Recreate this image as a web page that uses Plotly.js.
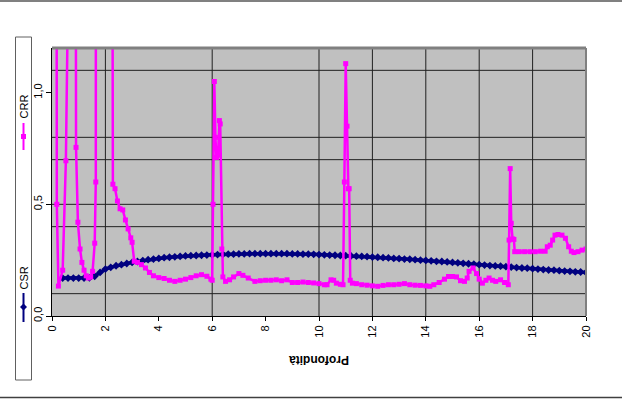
<!DOCTYPE html>
<html>
<head>
<meta charset="utf-8">
<script src="https://cdn.plot.ly/plotly-3.0.1.min.js"></script>
<style>html,body{margin:0;padding:0;background:#fff;}#chart{width:622px;height:401px;}</style>
</head>
<body>
<div id="chart"></div>
<script>
// ---- data ----
const depthCSR = [0.4,0.6,0.8,1.0,1.2,1.4,1.6,1.8,2.0,2.2,2.4,2.6,2.8,3.0,3.2,3.4,3.6,3.8,4.0,4.2,4.4,4.6,4.8,5.0,5.2,5.4,5.6,5.8,6.0,6.2,6.4,6.6,6.8,7.0,7.2,7.4,7.6,7.8,8.0,8.2,8.4,8.6,8.8,9.0,9.2,9.4,9.6,9.8,10.0,10.2,10.4,10.6,10.8,11.0,11.2,11.4,11.6,11.8,12.0,12.2,12.4,12.6,12.8,13.0,13.2,13.4,13.6,13.8,14.0,14.2,14.4,14.6,14.8,15.0,15.2,15.4,15.6,15.8,16.0,16.2,16.4,16.6,16.8,17.0,17.2,17.4,17.6,17.8,18.0,18.2,18.4,18.6,18.8,19.0,19.2,19.4,19.6,19.8,20.0];
const csr = [0.17,0.17,0.17,0.17,0.17,0.171,0.178,0.195,0.21,0.218,0.225,0.23,0.235,0.24,0.244,0.248,0.252,0.255,0.258,0.261,0.263,0.265,0.267,0.269,0.27,0.271,0.272,0.273,0.274,0.275,0.276,0.277,0.277,0.278,0.278,0.279,0.279,0.279,0.279,0.279,0.279,0.279,0.279,0.278,0.278,0.277,0.277,0.276,0.275,0.274,0.273,0.272,0.271,0.27,0.269,0.268,0.267,0.266,0.264,0.263,0.261,0.26,0.258,0.257,0.255,0.254,0.252,0.25,0.249,0.247,0.245,0.244,0.242,0.24,0.238,0.236,0.234,0.232,0.23,0.228,0.226,0.224,0.223,0.221,0.219,0.217,0.215,0.214,0.212,0.21,0.208,0.206,0.205,0.203,0.201,0.2,0.198,0.197,0.195];
const depthCRR = [0.16,0.18,0.24,0.4,0.52,0.53,0.87,0.9,0.97,1.05,1.12,1.2,1.28,1.36,1.45,1.52,1.6,1.64,1.65,2.23,2.28,2.36,2.45,2.55,2.65,2.75,2.85,2.95,3.0,3.08,3.2,3.35,3.5,3.65,3.8,4.0,4.2,4.4,4.6,4.8,5.0,5.2,5.4,5.6,5.8,5.95,6.0,6.03,6.08,6.12,6.16,6.22,6.27,6.3,6.36,6.4,6.5,6.65,6.8,7.0,7.15,7.35,7.6,7.8,8.0,8.2,8.4,8.6,8.8,9.0,9.2,9.4,9.6,9.8,10.0,10.2,10.3,10.45,10.55,10.65,10.8,10.9,10.95,11.0,11.05,11.1,11.13,11.17,11.25,11.4,11.6,11.8,12.0,12.2,12.4,12.6,12.8,13.0,13.2,13.4,13.6,13.8,14.0,14.15,14.3,14.5,14.7,14.85,15.0,15.15,15.3,15.45,15.55,15.62,15.77,15.9,16.0,16.12,16.25,16.37,16.5,16.62,16.8,16.95,17.09,17.12,17.16,17.2,17.25,17.3,17.33,17.5,17.7,17.9,18.1,18.3,18.47,18.55,18.66,18.75,18.84,18.95,19.1,19.23,19.35,19.45,19.55,19.7,19.85,20.0];
const crr = [4.0,0.5,0.134,0.205,0.695,4.0,4.0,0.755,0.42,0.3,0.24,0.205,0.18,0.17,0.175,0.2,0.326,0.6,4.0,4.0,0.59,0.57,0.515,0.48,0.475,0.43,0.39,0.35,0.33,0.245,0.24,0.23,0.215,0.195,0.18,0.172,0.168,0.16,0.155,0.16,0.165,0.172,0.18,0.185,0.178,0.165,0.16,0.5,1.05,0.8,0.71,0.72,0.875,0.86,0.3,0.175,0.155,0.162,0.175,0.19,0.182,0.17,0.155,0.158,0.16,0.16,0.162,0.158,0.162,0.15,0.15,0.152,0.15,0.148,0.145,0.14,0.14,0.162,0.16,0.147,0.142,0.14,0.6,1.13,0.85,0.57,0.57,0.16,0.147,0.145,0.14,0.138,0.135,0.133,0.137,0.14,0.14,0.142,0.145,0.14,0.138,0.137,0.135,0.133,0.14,0.15,0.165,0.177,0.177,0.175,0.158,0.155,0.17,0.2,0.215,0.19,0.165,0.147,0.16,0.17,0.16,0.155,0.162,0.15,0.14,0.34,0.66,0.415,0.345,0.343,0.288,0.288,0.288,0.288,0.288,0.29,0.29,0.31,0.317,0.34,0.362,0.365,0.362,0.348,0.31,0.29,0.284,0.288,0.295,0.3];
const xTickVals = [0,2,4,6,8,10,12,14,16,18,20];
const yTickVals = [0,0.5,1.0];
const yTickText = ['0,0','0,5','1,0'];
const xGridVals = [2,6,10,12,14,16,18];
const yGridVals = [0.1,0.4,0.5,0.7,0.8,1.1];
const seriesNames = ['CSR','CRR'];
const xTitle = 'Profondità';

// ---- layout helpers (pixel -> paper) ----
const L = 52, R = 586, T = 48, B = 316;
const px = v => (v - L) / (R - L);
const py = v => (B - v) / (B - T);
const FONT = 'Liberation Sans, Arial, sans-serif';
const NAVY = '#000080', MAG = '#FF00FF';

const shapes = [];
xGridVals.forEach(v => shapes.push({type:'line', xref:'x', yref:'paper', x0:v, x1:v, y0:0, y1:1, layer:'below', line:{color:'#202020', width:1}}));
yGridVals.forEach(v => shapes.push({type:'line', xref:'paper', yref:'y', x0:0, x1:1, y0:v, y1:v, layer:'below', line:{color:'#202020', width:1}}));
// plot border (gray top/right)
shapes.push({type:'line', xref:'paper', yref:'paper', x0:0, x1:1, y0:1, y1:1, line:{color:'#808080', width:3}});
shapes.push({type:'line', xref:'paper', yref:'paper', x0:1, x1:1, y0:0, y1:1, line:{color:'#808080', width:2}});
// outer frame lines
shapes.push({type:'line', xref:'paper', yref:'paper', x0:px(0), x1:px(622), y0:py(1), y1:py(1), line:{color:'#808080', width:2}});
shapes.push({type:'line', xref:'paper', yref:'paper', x0:px(0), x1:px(622), y0:py(397.5), y1:py(397.5), line:{color:'#404040', width:1.5}});
// legend box
shapes.push({type:'rect', xref:'paper', yref:'paper', x0:px(15.5), x1:px(31.5), y0:py(380), y1:py(37), line:{color:'#606060', width:1}, fillcolor:'rgba(0,0,0,0)'});
// legend symbols
shapes.push({type:'line', xref:'paper', yref:'paper', x0:px(23.5), x1:px(23.5), y0:py(150), y1:py(123), line:{color:MAG, width:2}});
shapes.push({type:'rect', xref:'paper', yref:'paper', x0:px(21), x1:px(26), y0:py(139), y1:py(134), line:{color:MAG, width:0}, fillcolor:MAG});
shapes.push({type:'line', xref:'paper', yref:'paper', x0:px(23.5), x1:px(23.5), y0:py(322), y1:py(293), line:{color:NAVY, width:2}});
shapes.push({type:'path', xref:'paper', yref:'paper',
  path:`M ${px(23.5)} ${py(303.5)} L ${px(27)} ${py(307)} L ${px(23.5)} ${py(310.5)} L ${px(20)} ${py(307)} Z`,
  line:{color:NAVY, width:0}, fillcolor:NAVY});

const annotations = [
  {text:seriesNames[1], xref:'paper', yref:'paper', x:px(23.5), y:py(107), textangle:-90, showarrow:false, xanchor:'center', yanchor:'middle', font:{family:FONT, size:11, color:'#000'}},
  {text:seriesNames[0], xref:'paper', yref:'paper', x:px(23.5), y:py(278), textangle:-90, showarrow:false, xanchor:'center', yanchor:'middle', font:{family:FONT, size:11, color:'#000'}},
  {text:'<b>'+xTitle+'</b>', xref:'paper', yref:'paper', x:0.5, y:py(360), textangle:180, showarrow:false, xanchor:'center', yanchor:'middle', font:{family:FONT, size:12, color:'#000'}}
];

const traces = [
  {x:depthCSR, y:csr, name:seriesNames[0], type:'scatter', mode:'lines+markers',
   line:{color:NAVY, width:3.5}, marker:{symbol:'diamond', size:6, color:NAVY}},
  {x:depthCRR, y:crr, name:seriesNames[1], type:'scatter', mode:'lines+markers',
   line:{color:MAG, width:2.5}, marker:{symbol:'square', size:5, color:MAG}}
];

const layout = {
  width:622, height:401,
  margin:{l:L, r:622-R, t:T, b:401-B},
  paper_bgcolor:'#ffffff', plot_bgcolor:'#C0C0C0',
  showlegend:false,
  font:{family:FONT, size:11, color:'#000'},
  xaxis:{range:[0,20], tickvals:xTickVals, ticktext:xTickVals.map(String), tickangle:-90,
    ticks:'outside', ticklen:4, tickcolor:'#000', showgrid:false, zeroline:false,
    showline:true, linecolor:'#000', linewidth:1, tickfont:{family:FONT, size:11}},
  yaxis:{range:[0,1.2], tickvals:yTickVals, ticktext:yTickText, tickangle:-90,
    ticks:'outside', ticklen:5, tickcolor:'#000', showgrid:false, zeroline:false,
    showline:true, linecolor:'#000', linewidth:1, tickfont:{family:FONT, size:11}},
  shapes:shapes,
  annotations:annotations
};

Plotly.newPlot('chart', traces, layout, {staticPlot:true, displayModeBar:false});
</script>
</body>
</html>
